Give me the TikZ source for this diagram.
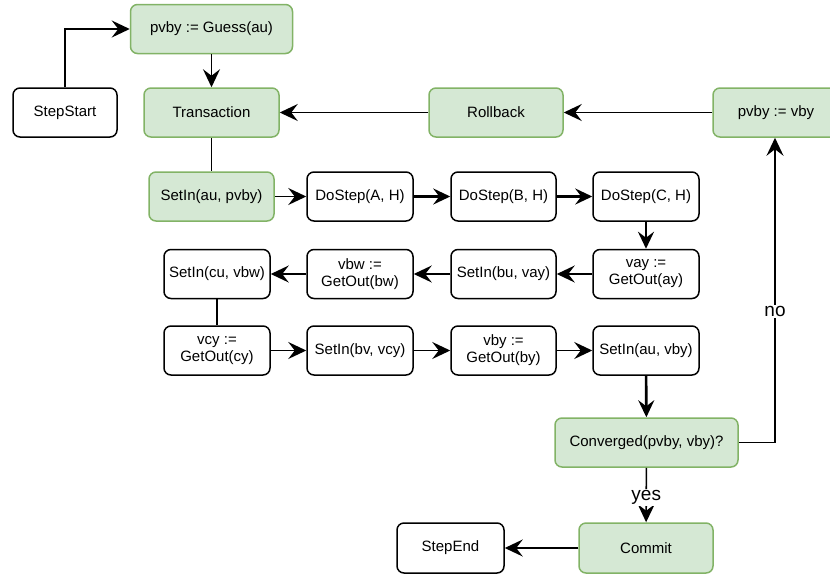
\documentclass[tikz,border=0pt]{standalone}
\usepackage{fontspec}
\setmainfont{Liberation Sans}
\usetikzlibrary{arrows.meta}
\definecolor{gfill}{HTML}{D5E8D4}
\definecolor{gline}{HTML}{82B366}
\begin{document}
\begin{tikzpicture}[x=1pt,y=-1pt,
  box/.style={draw=black,line width=1.5pt,rounded corners=7pt,fill=white,minimum height=49pt,
    inner sep=1pt,align=center,font=\fontsize{15}{17}\selectfont},
  gbox/.style={box,draw=gline,fill=gfill},
  arr/.style={line width=1.6pt,-{Stealth[length=18pt,width=17pt,inset=6.5pt]}},
  tarr/.style={line width=2.6pt,-{Stealth[length=17pt,width=16pt,inset=6pt]}},
  ln/.style={line width=1.6pt},
  lbl/.style={fill=white,inner sep=1.5pt,font=\fontsize{19}{21}\selectfont}]
\useasboundingbox (0,0) rectangle (830,574);
\node[gbox,minimum width=162pt] (guess) at (211.5,29) {pvby := Guess(au)};
\node[box,minimum width=104pt] (start) at (65,112.5) {StepStart};
\node[gbox,minimum width=135pt] (trans) at (211.5,112.5) {Transaction};
\node[gbox,minimum width=134pt] (roll) at (496,112.5) {Rollback};
\node[gbox,minimum width=126pt] (pvv) at (776,112.5) {pvby := vby};
\node[gbox,minimum width=125pt] (s1) at (211.5,196.5) {SetIn(au, pvby)};
\node[box,minimum width=106pt] (da) at (360,196.5) {DoStep(A, H)};
\node[box,minimum width=105pt] (db) at (503.5,196.5) {DoStep(B, H)};
\node[box,minimum width=106pt] (dc) at (646,196.5) {DoStep(C, H)};
\node[box,minimum width=106pt] (vay) at (646,274) {vay :=\\GetOut(ay)};
\node[box,minimum width=105pt] (sbu) at (503.5,274) {SetIn(bu, vay)};
\node[box,minimum width=106pt] (vbw) at (360,274) {vbw :=\\GetOut(bw)};
\node[box,minimum width=106pt] (scu) at (217,274) {SetIn(cu, vbw)};
\node[box,minimum width=106pt] (vcy) at (217,350.5) {vcy :=\\GetOut(cy)};
\node[box,minimum width=106pt] (sbv) at (360,350.5) {SetIn(bv, vcy)};
\node[box,minimum width=105pt] (vby) at (503.5,350.5) {vby :=\\GetOut(by)};
\node[box,minimum width=106pt] (sau) at (646,350.5) {SetIn(au, vby)};
\node[gbox,minimum width=183pt] (conv) at (646.5,442.5) {Converged(pvby, vby)?};
\node[gbox,minimum width=134pt,minimum height=50pt] (commit) at (646,548) {Commit};
\node[box,minimum width=107pt,minimum height=50pt] (end) at (450.5,548) {StepEnd};
\coordinate (cr) at (775,442.5);
\draw[arr] (start.north) |- (guess.west);
\draw[arr] (guess) -- (trans);
\draw[arr] (roll) -- (trans);
\draw[arr] (pvv) -- (roll);
\draw[ln] (trans) -- (s1);
\draw[arr] (s1) -- (da);
\draw[tarr] (da) -- (db);
\draw[tarr] (db) -- (dc);
\draw[tarr] (dc) -- (vay);
\draw[arr] (vay) -- (sbu);
\draw[arr] (sbu) -- (vbw);
\draw[arr] (vbw) -- (scu);
\draw[ln] (scu) -- (vcy);
\draw[arr] (vcy) -- (sbv);
\draw[arr] (sbv) -- (vby);
\draw[arr] (vby) -- (sau);
\draw[tarr] (sau) -- (conv);
\draw[arr] (conv.east) -- (cr) -- (cr |- pvv.south) node[lbl,pos=0.43] {no};
\draw[arr] (conv) -- (commit) node[lbl,pos=0.55] {yes};
\draw[arr] (commit) -- (end);
\end{tikzpicture}
\end{document}
